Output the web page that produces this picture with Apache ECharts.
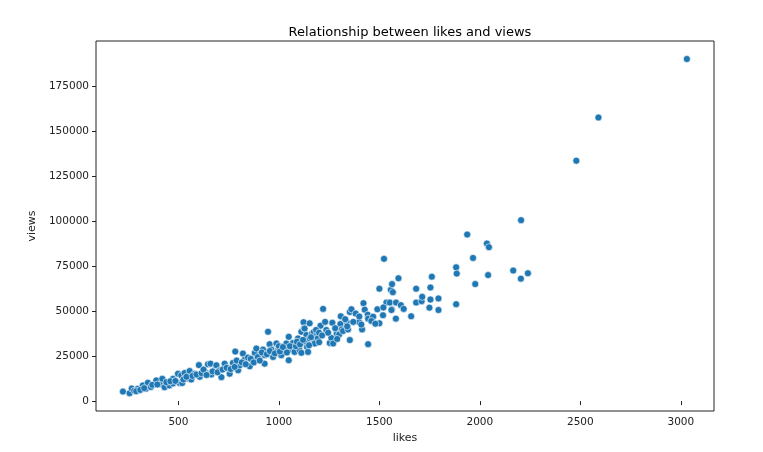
<!DOCTYPE html>
<html>
<head>
<meta charset="utf-8">
<script src="https://cdn.jsdelivr.net/npm/echarts@6/dist/echarts.min.js"></script>
<style>
  html, body { margin: 0; padding: 0; background: #fff; }
  #chart { width: 763px; height: 452px; }
</style>
</head>
<body>
<div id="chart"></div>
<script>
// likes / views pairs
const likes = [
  224, 257, 268, 280, 298, 323, 338, 348, 363, 390, 407, 420, 431, 455, 473, 473, 498, 506, 514, 519,
  531, 548, 556, 564, 581, 602, 606, 631, 647, 656, 660, 664, 686, 689, 705, 714, 730, 755, 771, 783,
  797, 805, 821, 829, 846, 855, 871, 880, 888, 921, 929, 929, 946, 954, 963, 971, 988, 996, 1012, 1030,
  1037, 1049, 1049, 1062, 1070, 1078, 1095, 1103, 1112, 1112, 1123, 1125, 1128, 1132, 1137, 1140, 1145, 1153, 1153, 1165,
  1173, 1176, 1178, 1190, 1194, 1200, 1207, 1220, 1236, 1253, 1261, 1266, 1270, 1288, 1300, 1306, 1308, 1313, 1319, 1338,
  1344, 1353, 1353, 1361, 1382, 1399, 1414, 1421, 1427, 1442, 1444, 1444, 1469, 1490, 1500, 1500, 1518, 1523, 1535, 1557,
  1562, 1563, 1567, 1552, 1560, 1582, 1583, 1595, 1607, 1621, 1658, 1683, 1683, 1710, 1713, 1749, 1754, 1754, 1761, 1794,
  1794, 1882, 1882, 1885, 1937, 1966, 1977, 2035, 2045, 2041, 2166, 2204, 2205, 2239, 2480, 2590, 3030,
  290, 310, 330, 370, 395, 440, 460, 485, 525, 540, 570, 590, 615, 625, 640, 670, 695, 720, 740, 760,
  780, 790, 815, 835, 860, 875, 895, 905, 915, 940, 955, 980, 1000, 1005, 1020, 1040, 1055, 1085, 1090, 1105,
  1120, 1150, 1160, 1185, 1200, 1215, 1230, 1245, 1280, 1290, 1330, 1340, 1370, 1400, 1410, 1460, 1480, 1520
];
const views = [
  5300, 4400, 7000, 5800, 6800, 8700, 6800, 10200, 7800, 11500, 9400, 12400, 7700, 8700, 12400, 9800, 15200, 10000, 14300, 10000,
  15600, 12500, 16700, 12000, 15200, 20000, 13500, 16500, 20400, 15000, 20800, 14800, 18700, 19900, 17100, 13300, 20800, 15200, 21200, 27500,
  17100, 19900, 26400, 22900, 24200, 19300, 23000, 26800, 29200, 28600, 25500, 20800, 38500, 31600, 28600, 24500, 32000, 28300, 25500, 28300,
  32000, 35700, 22700, 28600, 32300, 27300, 34800, 28300, 26800, 38500, 43800, 40400, 40300, 32900, 36700, 30000, 27300, 43200, 34800, 37600,
  38300, 33900, 32000, 37200, 35000, 32700, 41900, 51200, 39500, 32300, 35100, 43500, 32000, 37600, 37000, 42800, 47100, 39800, 38900, 43800,
  39800, 33900, 49500, 51000, 48600, 43900, 39800, 54400, 50800, 48000, 45800, 31600, 46900, 51000, 62400, 43200, 47700, 79000, 54700, 61800,
  51000, 65000, 60500, 54700, 50600, 45800, 54700, 68200, 53300, 51200, 47100, 62400, 54700, 55500, 57900, 51900, 63100, 56400, 69100, 57000,
  50600, 53800, 74300, 70800, 92500, 79500, 65000, 87500, 85500, 70000, 72500, 68000, 100500, 71000, 133500, 157500, 190000,
  5500, 6200, 7200, 9000, 9200, 10500, 11000, 11200, 12000, 13500, 14000, 14800, 15500, 17500, 14500, 16500, 16000, 17500, 18500, 17800,
  19000, 22500, 21500, 20500, 23500, 21500, 24500, 22500, 27000, 26000, 27800, 26500, 30500, 27500, 30000, 27000, 30500, 30500, 33000, 31500,
  34000, 31000, 35500, 39500, 38000, 36500, 44000, 38000, 40500, 34500, 45500, 41500, 44000, 47000, 42500, 44500, 43000, 52000
];
const xTicks = [500, 1000, 1500, 2000, 2500, 3000];
const yTicks = [0, 25000, 50000, 75000, 100000, 125000, 150000, 175000];

const points = likes.map((v, i) => [v, views[i]]);

const chart = echarts.init(document.getElementById('chart'));
const font = 'DejaVu Sans';
chart.setOption({
  animation: false,
  backgroundColor: '#fff',
  title: {
    text: 'Relationship between likes and views',
    left: 405,
    top: 21,
    textAlign: 'center',
    textStyle: { fontFamily: font, fontSize: 13, fontWeight: 'normal', color: '#000' }
  },
  grid: {
    left: 96, right: 49, top: 41, bottom: 41,
    show: true, borderColor: '#222', borderWidth: 1, backgroundColor: '#fff'
  },
  xAxis: {
    type: 'value',
    min: 90, max: 3165,
    name: 'likes',
    nameLocation: 'middle',
    nameGap: 22,
    nameTextStyle: { fontFamily: font, fontSize: 11, color: '#222' },
    axisLine: { show: false },
    splitLine: { show: false },
    axisTick: { show: true, customValues: xTicks, length: 4, lineStyle: { color: '#222' } },
    axisLabel: { customValues: xTicks, margin: 6, fontFamily: font, fontSize: 10.5, color: '#222', formatter: v => String(v) }
  },
  yAxis: {
    type: 'value',
    min: -5500, max: 200000,
    name: 'views',
    nameLocation: 'middle',
    nameGap: 55,
    nameTextStyle: { fontFamily: font, fontSize: 11, color: '#222' },
    axisLine: { show: false },
    splitLine: { show: false },
    axisTick: { show: true, customValues: yTicks, length: 4, lineStyle: { color: '#222' } },
    axisLabel: { customValues: yTicks, margin: 7, fontFamily: font, fontSize: 10.5, color: '#222', formatter: v => String(v) }
  },
  series: [{
    type: 'scatter',
    data: points,
    symbolSize: 7,
    itemStyle: { color: '#1f77b4', borderColor: '#fff', borderWidth: 0.6, opacity: 1 }
  }]
});
window.addEventListener('resize', () => chart.resize());
</script>
</body>
</html>
